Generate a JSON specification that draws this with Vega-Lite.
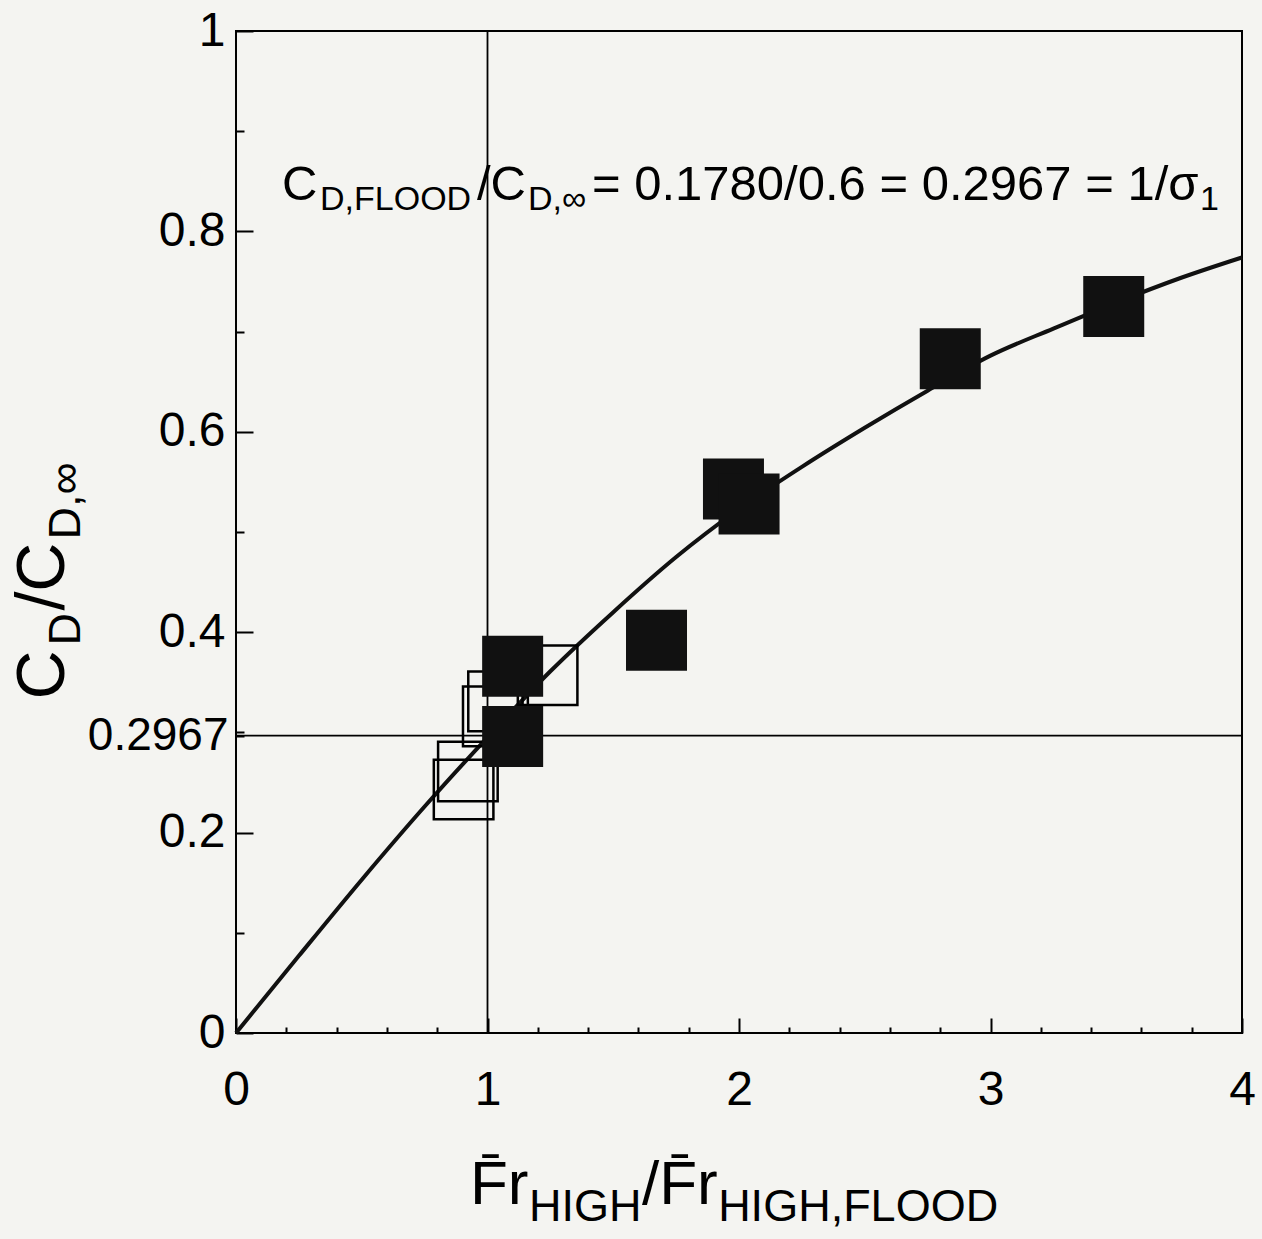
{
  "$schema": "https://vega.github.io/schema/vega-lite/v6.json",
  "width": 1006,
  "height": 1002,
  "autosize": "none",
  "padding": {"left": 236, "top": 31, "right": 20, "bottom": 206},
  "background": "#f4f4f1",
  "config": {
    "view": {"stroke": "black", "strokeWidth": 2},
    "font": "Liberation Sans",
    "axis": {"labelFont": "Liberation Sans", "labelColor": "black"}
  },
  "datasets": {
    "curve": [
      {"x": 0, "y": 0}, {"x": 0.25, "y": 0.077}, {"x": 0.5, "y": 0.153}, {"x": 0.75, "y": 0.226},
      {"x": 1.0, "y": 0.295}, {"x": 1.25, "y": 0.361}, {"x": 1.5, "y": 0.42}, {"x": 1.75, "y": 0.475},
      {"x": 2.0, "y": 0.523}, {"x": 2.25, "y": 0.565}, {"x": 2.5, "y": 0.604}, {"x": 2.75, "y": 0.641},
      {"x": 3.0, "y": 0.676}, {"x": 3.25, "y": 0.703}, {"x": 3.5, "y": 0.729}, {"x": 3.75, "y": 0.753},
      {"x": 4.0, "y": 0.774}
    ],
    "filled": [
      {"x": 1.10, "y": 0.366}, {"x": 1.10, "y": 0.296}, {"x": 1.672, "y": 0.392},
      {"x": 1.978, "y": 0.543}, {"x": 2.04, "y": 0.528}, {"x": 2.84, "y": 0.673}, {"x": 3.49, "y": 0.725}
    ],
    "open": [
      {"x": 1.239, "y": 0.357}, {"x": 1.042, "y": 0.331}, {"x": 1.021, "y": 0.316},
      {"x": 0.922, "y": 0.261}, {"x": 0.905, "y": 0.243}
    ],
    "vline": [{"x": 1}],
    "hline": [{"y": 0.2967}],
    "annBig": [
      {"x": 0.183, "y": 0.831, "t": "C"},
      {"x": 0.958, "y": 0.831, "t": "/C"},
      {"x": 1.4155, "y": 0.831, "t": "= 0.1780/0.6 = 0.2967 = 1/σ"}
    ],
    "annSub": [
      {"x": 0.334, "y": 0.831, "t": "D,FLOOD"},
      {"x": 1.161, "y": 0.831, "t": "D,∞"},
      {"x": 3.833, "y": 0.831, "t": "1"}
    ],
    "xtBig": [
      {"x": 0.930, "y": -0.171, "t": "F̄r"},
      {"x": 1.614, "y": -0.171, "t": "/F̄r"}
    ],
    "xtSub": [
      {"x": 1.165, "y": -0.171, "t": "HIGH"},
      {"x": 1.917, "y": -0.171, "t": "HIGH,FLOOD"}
    ],
    "ytBig": [
      {"x": -0.684, "y": 0.3328, "t": "C"},
      {"x": -0.684, "y": 0.4216, "t": "/C"}
    ],
    "ytSub": [
      {"x": -0.684, "y": 0.3867, "t": "D"},
      {"x": -0.684, "y": 0.4925, "t": "D,∞"}
    ]
  },
  "layer": [
    {
      "data": {"name": "curve"},
      "mark": {"type": "line", "color": "#111", "strokeWidth": 4, "interpolate": "monotone"},
      "encoding": {
        "x": {
          "field": "x", "type": "quantitative",
          "scale": {"domain": [0, 4], "nice": false, "zero": false},
          "axis": {
            "values": [0, 0.2, 0.4, 0.6, 0.8, 1, 1.2, 1.4, 1.6, 1.8, 2, 2.2, 2.4, 2.6, 2.8, 3, 3.2, 3.4, 3.6, 3.8, 4],
            "title": null, "domain": false, "grid": false,
            "tickColor": "black", "tickWidth": 2,
            "tickSize": {"condition": {"test": "abs(datum.value - round(datum.value)) < 0.001", "value": -15}, "value": -6},
            "labelExpr": "abs(datum.value - round(datum.value)) < 0.001 ? format(datum.value, 'd') : ''",
            "labelFontSize": 48, "labelPadding": 48, "labelOverlap": false, "labelFlush": false, "labelBound": false
          }
        },
        "y": {
          "field": "y", "type": "quantitative",
          "scale": {"domain": [0, 1], "nice": false, "zero": false},
          "axis": {
            "values": [0, 0.1, 0.2, 0.2967, 0.3, 0.4, 0.5, 0.6, 0.7, 0.8, 0.9, 1],
            "title": null, "domain": false, "grid": false,
            "tickColor": "black", "tickWidth": 2,
            "tickSize": {"condition": {"test": "abs(datum.value*5 - round(datum.value*5)) < 0.001", "value": -17}, "value": -8},
            "labelExpr": "datum.value == 0.2967 ? '0.2967' : (abs(datum.value*5 - round(datum.value*5)) < 0.001 ? format(datum.value, '~g') : '')",
            "labelFontSize": {"condition": {"test": "datum.value == 0.2967", "value": 46}, "value": 48},
            "labelPadding": {"condition": {"test": "datum.value == 0.2967", "value": 16}, "value": 28},
            "labelOverlap": false, "labelFlush": false, "labelBound": false
          }
        }
      }
    },
    {
      "data": {"name": "vline"},
      "mark": {"type": "rule", "color": "black", "strokeWidth": 1.8},
      "encoding": {"x": {"field": "x", "type": "quantitative"}}
    },
    {
      "data": {"name": "hline"},
      "mark": {"type": "rule", "color": "black", "strokeWidth": 1.8},
      "encoding": {"y": {"field": "y", "type": "quantitative"}}
    },
    {
      "data": {"name": "open"},
      "mark": {"type": "point", "shape": "square", "filled": false, "size": 3550, "stroke": "black", "strokeWidth": 2.5, "opacity": 1},
      "encoding": {"x": {"field": "x", "type": "quantitative"}, "y": {"field": "y", "type": "quantitative"}}
    },
    {
      "data": {"name": "filled"},
      "mark": {"type": "point", "shape": "square", "filled": true, "size": 3721, "color": "#111", "opacity": 1},
      "encoding": {"x": {"field": "x", "type": "quantitative"}, "y": {"field": "y", "type": "quantitative"}}
    },
    {
      "data": {"name": "annBig"},
      "mark": {"type": "text", "align": "left", "baseline": "alphabetic", "fontSize": 49, "color": "black"},
      "encoding": {"x": {"field": "x", "type": "quantitative"}, "y": {"field": "y", "type": "quantitative"}, "text": {"field": "t"}}
    },
    {
      "data": {"name": "annSub"},
      "mark": {"type": "text", "align": "left", "baseline": "alphabetic", "fontSize": 34, "dy": 10, "color": "black"},
      "encoding": {"x": {"field": "x", "type": "quantitative"}, "y": {"field": "y", "type": "quantitative"}, "text": {"field": "t"}}
    },
    {
      "data": {"name": "xtBig"},
      "mark": {"type": "text", "align": "left", "baseline": "alphabetic", "fontSize": 62, "color": "black"},
      "encoding": {"x": {"field": "x", "type": "quantitative"}, "y": {"field": "y", "type": "quantitative"}, "text": {"field": "t"}}
    },
    {
      "data": {"name": "xtSub"},
      "mark": {"type": "text", "align": "left", "baseline": "alphabetic", "fontSize": 45, "dy": 17, "color": "black"},
      "encoding": {"x": {"field": "x", "type": "quantitative"}, "y": {"field": "y", "type": "quantitative"}, "text": {"field": "t"}}
    },
    {
      "data": {"name": "ytBig"},
      "mark": {"type": "text", "align": "left", "baseline": "alphabetic", "fontSize": 68, "angle": 270, "color": "black"},
      "encoding": {"x": {"field": "x", "type": "quantitative"}, "y": {"field": "y", "type": "quantitative"}, "text": {"field": "t"}}
    },
    {
      "data": {"name": "ytSub"},
      "mark": {"type": "text", "align": "left", "baseline": "alphabetic", "fontSize": 45, "angle": 270, "dy": 16, "color": "black"},
      "encoding": {"x": {"field": "x", "type": "quantitative"}, "y": {"field": "y", "type": "quantitative"}, "text": {"field": "t"}}
    }
  ]
}
